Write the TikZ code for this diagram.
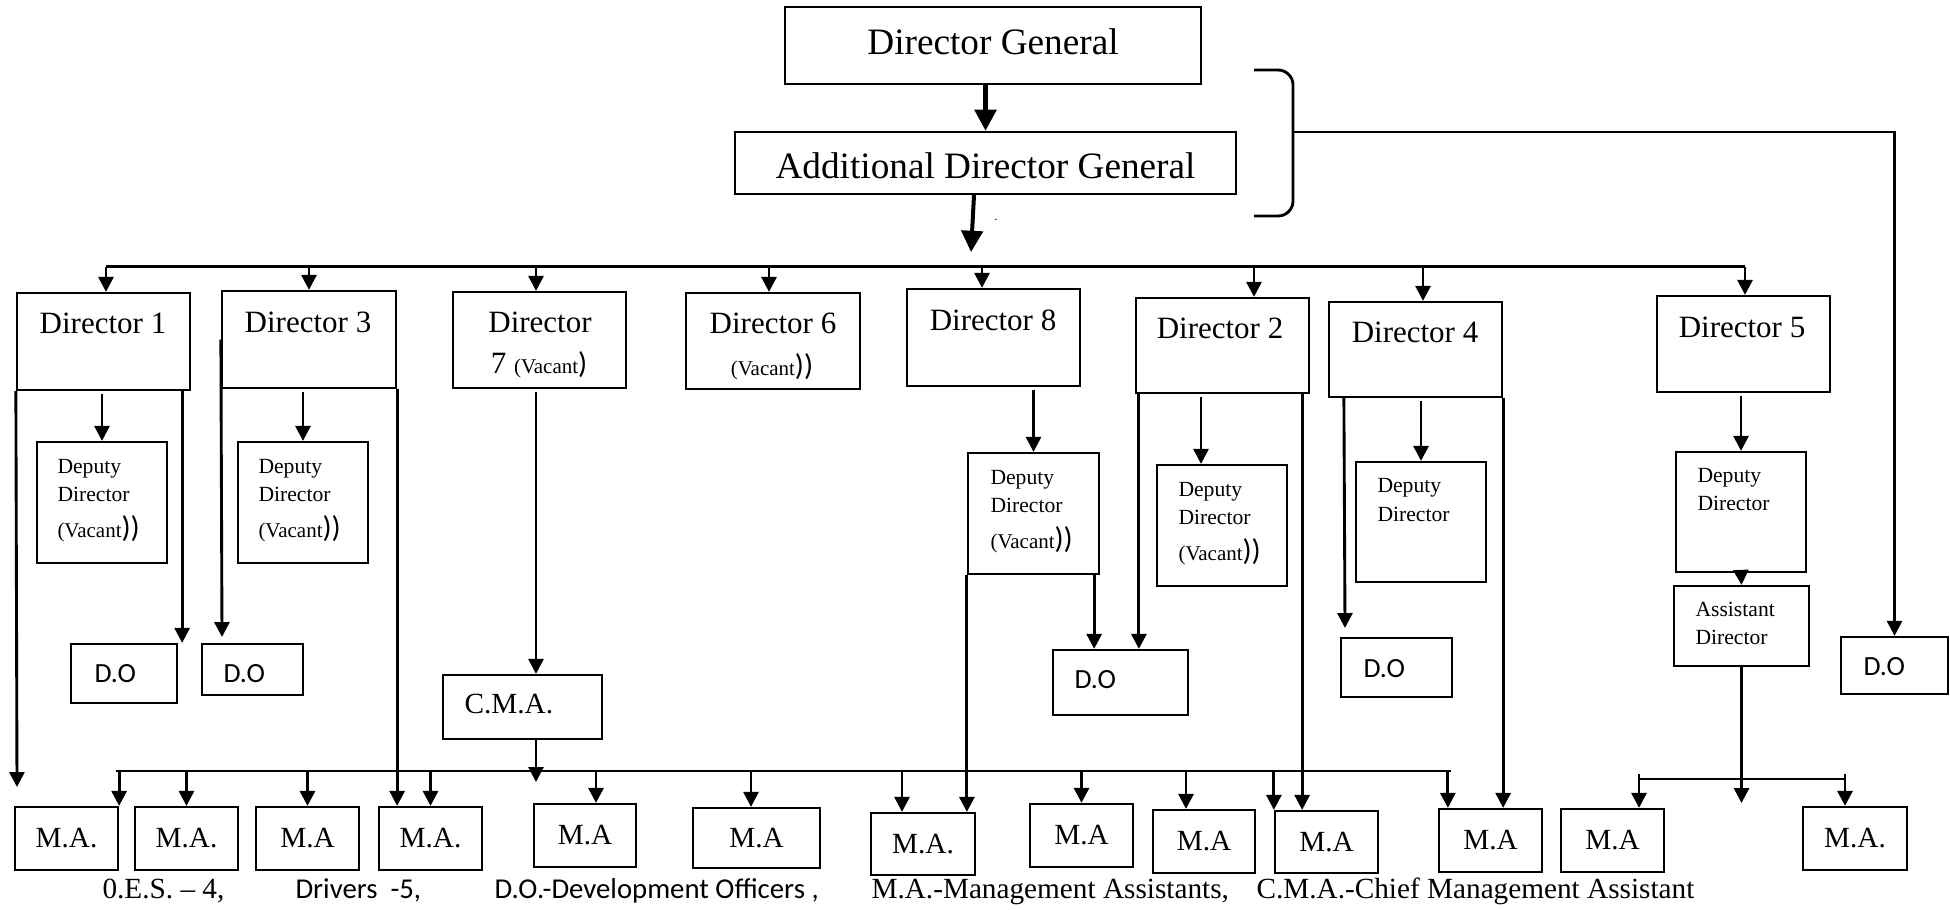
\documentclass[tikz,border=0pt]{standalone}
\usepackage{fontspec}
\setmainfont{Liberation Serif}
\newfontfamily\carlito{Carlito}
\usetikzlibrary{arrows.meta}
\newcommand\vacant[1]{{\fontsize{8.4}{10}\selectfont(Vacant}{\carlito\fontsize{12}{14}\selectfont#1}}

\begin{document}
\begin{tikzpicture}[x=0.4pt, y=-0.4pt,
  >={Triangle[length=6pt,width=6pt]},
  box/.style={draw, line width=0.9pt, inner sep=0pt},
  wire/.style={line width=1.15pt},
  heavy/.style={line width=2pt, >={Triangle[length=8.5pt,width=8.5pt]}},
  bigtxt/.style={font=\fontsize{14.9}{17}\selectfont},
  dirtxt/.style={font=\fontsize{12.4}{14}\selectfont, anchor=base, inner sep=0pt},
  deptxt/.style={font=\fontsize{8.65}{10}\selectfont, anchor=base west, inner sep=0pt},
  matxt/.style={font=\fontsize{11.7}{13}\selectfont},
  dotxt/.style={font=\carlito\fontsize{11.1}{13}\selectfont, anchor=base west, inner sep=0pt},
  keytxt/.style={font=\fontsize{11.7}{13}\selectfont, anchor=base west, inner sep=0pt}]
  \useasboundingbox (0,0) rectangle (1950,909);

  % top of the chart
  \node[box, bigtxt, text depth=3.4pt, minimum width=166.4pt, minimum height=30.8pt] (dg) at (993,45.5) {Director General};
  \node[box, bigtxt, text height=12.2pt, minimum width=200.4pt, minimum height=24.8pt] (adg) at (985.5,163) {Additional Director General};
  \node[font=\tiny, inner sep=0pt] (dot) at (996,220) {.};

  % directors
  \node[box, minimum width=69.2pt, minimum height=38.8pt] (d1) at (103.5,341.5) {};
  \node[box, minimum width=69.6pt, minimum height=38.8pt] (d3) at (309,339.5) {};
  \node[box, minimum width=69.2pt, minimum height=38.4pt] (d7) at (539.5,340) {};
  \node[box, minimum width=69.6pt, minimum height=38.4pt] (d6) at (773,341) {};
  \node[box, minimum width=69.2pt, minimum height=38.8pt] (d8) at (993.5,337.5) {};
  \node[box, minimum width=69.2pt, minimum height=38pt] (d2) at (1222.5,345.5) {};
  \node[box, minimum width=69.2pt, minimum height=38pt] (d4) at (1415.5,349.5) {};
  \node[box, minimum width=69.2pt, minimum height=38.4pt] (d5) at (1743.5,344) {};
  \node[dirtxt] (d1t) at (103,333) {Director 1};
  \node[dirtxt] (d3t) at (308,332) {Director 3};
  \node[dirtxt] (d7t) at (540,332) {Director};
  \node[dirtxt] (d7u) at (539,373) {7 \vacant{)}};
  \node[dirtxt] (d6t) at (773,333) {Director 6};
  \node[dirtxt] (d6u) at (772,375) {\vacant{))}};
  \node[dirtxt] (d8t) at (993,330) {Director 8};
  \node[dirtxt] (d2t) at (1220,338) {Director 2};
  \node[dirtxt] (d4t) at (1415,342) {Director 4};
  \node[dirtxt] (d5t) at (1742,337) {Director 5};

  % deputy and assistant directors
  \node[box, minimum width=52pt, minimum height=48.4pt] (dd1) at (102,502.5) {};
  \node[box, minimum width=52pt, minimum height=48.4pt] (dd3) at (303,502.5) {};
  \node[box, minimum width=52.4pt, minimum height=48.4pt] (dd8) at (1033.5,513.5) {};
  \node[box, minimum width=52pt, minimum height=48.4pt] (dd2) at (1222,525.5) {};
  \node[box, minimum width=52pt, minimum height=48pt] (dd4) at (1421,522) {};
  \node[box, minimum width=52pt, minimum height=48pt] (dd5) at (1741,512) {};
  \node[box, minimum width=54pt, minimum height=32pt] (ad) at (1741.5,626) {};
  \node[deptxt] (dd1a) at (57,473) {Deputy};
  \node[deptxt] (dd1b) at (57,501) {Director};
  \node[deptxt] (dd1c) at (57,537) {\vacant{))}};
  \node[deptxt] (dd3a) at (258,473) {Deputy};
  \node[deptxt] (dd3b) at (258,501) {Director};
  \node[deptxt] (dd3c) at (258,537) {\vacant{))}};
  \node[deptxt] (dd8a) at (990,484) {Deputy};
  \node[deptxt] (dd8b) at (990,512) {Director};
  \node[deptxt] (dd8c) at (990,548) {\vacant{))}};
  \node[deptxt] (dd2a) at (1178,496) {Deputy};
  \node[deptxt] (dd2b) at (1178,524) {Director};
  \node[deptxt] (dd2c) at (1178,560) {\vacant{))}};
  \node[deptxt] (dd4a) at (1377,492) {Deputy};
  \node[deptxt] (dd4b) at (1377,521) {Director};
  \node[deptxt] (dd5a) at (1697,482) {Deputy};
  \node[deptxt] (dd5b) at (1697,510) {Director};
  \node[deptxt] (ada) at (1695,616) {Assistant};
  \node[deptxt] (adb) at (1695,644) {Director};

  % development officers and C.M.A.
  \node[box, minimum width=42.4pt, minimum height=23.6pt] (do1) at (124,673.5) {};
  \node[box, minimum width=40.4pt, minimum height=20.4pt] (do2) at (252.5,669.5) {};
  \node[box, minimum width=54pt, minimum height=26pt] (do3) at (1120.5,682.5) {};
  \node[box, minimum width=44.4pt, minimum height=23.6pt] (do4) at (1396.5,667.5) {};
  \node[box, minimum width=42.8pt, minimum height=22.8pt] (do5) at (1894.5,665.5) {};
  \node[dotxt] (do1t) at (94,682) {D.O};
  \node[dotxt] (do2t) at (223,682) {D.O};
  \node[dotxt] (do3t) at (1074,688) {D.O};
  \node[dotxt] (do4t) at (1363,677) {D.O};
  \node[dotxt] (do5t) at (1863,675) {D.O};
  \node[box, minimum width=63.6pt, minimum height=25.6pt] (cma) at (522.5,707) {};
  \node[matxt, anchor=base west, inner sep=0pt] (cmat) at (464,713) {C.M.A.};

  % management assistants
  \node[box, matxt, minimum width=41.2pt, minimum height=25.2pt] (ma1) at (66.5,838.5) {M.A.};
  \node[box, matxt, minimum width=41.2pt, minimum height=25.2pt] (ma2) at (186.5,838.5) {M.A.};
  \node[box, matxt, minimum width=41.2pt, minimum height=25.2pt] (ma3) at (307.5,838.5) {M.A};
  \node[box, matxt, minimum width=41.2pt, minimum height=25.2pt] (ma4) at (430.5,838.5) {M.A.};
  \node[box, matxt, minimum width=40.8pt, minimum height=25.2pt] (ma5) at (585,835.5) {M.A};
  \node[box, matxt, minimum width=50.8pt, minimum height=24pt] (ma6) at (756.5,838) {M.A};
  \node[box, matxt, minimum width=41.6pt, minimum height=24.8pt] (ma7) at (923,844) {M.A.};
  \node[box, matxt, minimum width=41.2pt, minimum height=25.2pt] (ma8) at (1081.5,835.5) {M.A};
  \node[box, matxt, minimum width=40.8pt, minimum height=25.2pt] (ma9) at (1204,841.5) {M.A};
  \node[box, matxt, minimum width=41.2pt, minimum height=24.8pt] (ma10) at (1326.5,842) {M.A};
  \node[box, matxt, minimum width=41.2pt, minimum height=25.2pt] (ma11) at (1490.5,840.5) {M.A};
  \node[box, matxt, minimum width=41.2pt, minimum height=25.2pt] (ma12) at (1612.5,840.5) {M.A};
  \node[box, matxt, minimum width=41.6pt, minimum height=25.2pt] (ma13) at (1855,838.5) {M.A.};

  % key
  \node[keytxt] (key1) at (102,898) {0.E.S. – 4,};
  \node[keytxt, font=\carlito\fontsize{11.5}{13}\selectfont] (key2) at (295,898) {Drivers\ \ -5,};
  \node[keytxt, font=\carlito\fontsize{11.5}{13}\selectfont] (key3) at (494,898) {D.O.-Development Officers ,};
  \node[keytxt] (key4) at (871,898) {M.A.-Management Assistants,};
  \node[keytxt] (key5) at (1256,898) {C.M.A.-Chief Management Assistant};

  % connectors
  \coordinate (adgend) at (971,252);
  \coordinate (brk) at (1293,132);
  \coordinate (busL) at (106,266.7);
  \coordinate (busR) at (1745,266.7);
  \coordinate (lowL) at (116,771);
  \coordinate (lowR) at (1451,771);
  \coordinate (sbL) at (1639,779);
  \coordinate (sbR) at (1845,779);
  \coordinate (d1end) at (17,787);
  \coordinate (d3end) at (222,637);
  \coordinate (d4end) at (1345,628);
  \coordinate (cmaend) at (536,782);
  \coordinate (adend) at (1741.5,803);

  \draw[heavy, ->] (adg.north |- dg.south) -- (adg.north);
  \draw[heavy, line width=1.6pt, ->] ([xshift=-4.6pt]adg.south) -- (adgend);
  \draw[wire, rounded corners=6pt] (1254,70) -- (1293,70) -- (1293,216) -- (1254,216);
  \draw[wire, ->] (brk) -- (brk -| do5.north) -- (do5.north);
  \draw[wire] (busL) -- (busR);
  \draw[wire] (lowL) -- (lowR);
  \draw[wire] ([yshift=2pt]sbL) -- (sbL) -- (sbR) -- ([yshift=2pt]sbR);

  \path[wire, ->]
  (busL) edge (busL |- d1.north)
  (d3.north |- busL) edge (d3.north)
  ([xshift=-1.4pt]d7.north |- busL) edge ([xshift=-1.4pt]d7.north)
  ([xshift=-1.6pt]d6.north |- busL) edge ([xshift=-1.6pt]d6.north)
  ([xshift=-4.6pt]d8.north |- busL) edge ([xshift=-4.6pt]d8.north)
  ([xshift=12.6pt]d2.north |- busL) edge ([xshift=12.6pt]d2.north)
  ([xshift=3pt]d4.north |- busL) edge ([xshift=3pt]d4.north)
  (busR) edge (busR |- d5.north)
  ;
  \path[wire, ->, shorten <=1pt]
  (dd1.north |- d1.south) edge (dd1.north)
  (dd3.north |- d3.south) edge (dd3.north)
  (cmaend |- d7.south) edge (cmaend |- cma.north)
  (dd8.north |- d8.south) edge (dd8.north)
  ([xshift=-8.4pt]dd2.north |- d2.south) edge ([xshift=-8.4pt]dd2.north)
  (dd4.north |- d4.south) edge (dd4.north)
  (dd5.north |- d5.south) edge (dd5.north)
  (dd5.south) edge (ad.north)
  ;
  \path[wire, ->]
  (d1.south west) edge (d1end)
  ([xshift=-3.6pt]d1.south east) edge ([xshift=-3.6pt]d1.south east |- do1.north)
  (d3.west) edge (d3end)
  (d3.south east) edge (d3.south east |- ma4.north)
  (dd8.south west) edge (dd8.south west |- ma7.north)
  ([xshift=-2.4pt]dd8.south east) edge ([xshift=-2.4pt]dd8.south east |- do3.north)
  ([xshift=1.6pt]d2.south west) edge ([xshift=1.6pt]d2.south west |- do3.north)
  ([xshift=-3.2pt]d2.south east) edge ([xshift=-3.2pt]d2.south east |- ma10.north)
  ([xshift=6.4pt]d4.south west) edge (d4end)
  (d4.south east) edge (d4.south east |- ma11.north)
  (cmaend |- cma.south) edge (cmaend)
  (ad.south) edge (adend)
  ;
  \path[wire, ->]
  (ma1.north east |- lowL) edge (ma1.north east)
  (ma2.north |- lowL) edge (ma2.north)
  (ma3.north |- lowL) edge (ma3.north)
  (ma4.north |- lowL) edge (ma4.north)
  ([xshift=4.4pt]ma5.north |- lowL) edge ([xshift=4.4pt]ma5.north)
  ([xshift=-2.2pt]ma6.north |- lowL) edge ([xshift=-2.2pt]ma6.north)
  ([xshift=-8.4pt]ma7.north |- lowL) edge ([xshift=-8.4pt]ma7.north)
  (ma8.north |- lowL) edge (ma8.north)
  ([xshift=-7.2pt]ma9.north |- lowL) edge ([xshift=-7.2pt]ma9.north)
  (ma10.north west |- lowL) edge (ma10.north west)
  ([xshift=4pt]ma11.north west |- lowL) edge ([xshift=4pt]ma11.north west)
  (sbL) edge (sbL |- ma12.north)
  (sbR) edge (sbR |- ma13.north)
  ;
\end{tikzpicture}
\end{document}
